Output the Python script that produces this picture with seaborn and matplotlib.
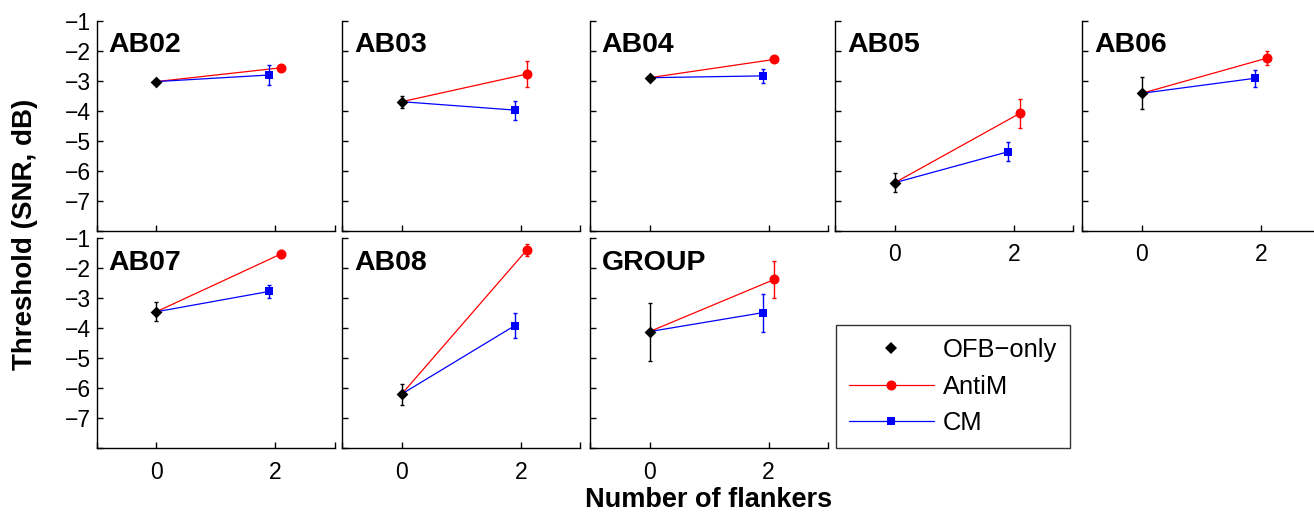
import numpy as np
import pandas as pd
import matplotlib
matplotlib.use("Agg")
import matplotlib.pyplot as plt
from matplotlib.lines import Line2D
import seaborn as sns

# ---- data ----
subjects = ["AB02", "AB03", "AB04", "AB05", "AB06", "AB07", "AB08", "GROUP"]
ofb_mean = [-3.03, -3.70, -2.90, -6.40, -3.42, -3.45, -6.19, -4.11]
ofb_err = [0.06, 0.20, 0.06, 0.32, 0.53, 0.32, 0.35, 0.97]
antim_mean = [-2.57, -2.78, -2.29, -4.09, -2.25, -1.52, -1.39, -2.37]
antim_err = [0.05, 0.44, 0.06, 0.47, 0.24, 0.14, 0.21, 0.61]
cm_mean = [-2.81, -3.98, -2.84, -5.37, -2.92, -2.77, -3.91, -3.48]
cm_err = [0.34, 0.32, 0.23, 0.32, 0.29, 0.21, 0.41, 0.64]
flankers = [0, 2]
conditions = ["OFB\u2212only", "AntiM", "CM"]
xtick_vals = [-1, 0, 2, 3]
xtick_labels = ["", "0", "2", ""]
ytick_vals = [-8, -7, -6, -5, -4, -3, -2, -1]
ytick_labels = ["", "\u22127", "\u22126", "\u22125", "\u22124", "\u22123", "\u22122", "\u22121"]

# ---- style ----
sns.set_theme(style="ticks")
plt.rcParams["font.family"] = ["Liberation Sans", "DejaVu Sans"]
plt.rcParams.update({
    "axes.linewidth": 1.0,
    "axes.edgecolor": "black",
    "text.color": "black",
    "axes.labelcolor": "black",
    "xtick.color": "black",
    "ytick.color": "black",
})

colors = {"OFB\u2212only": "black", "AntiM": "#ff0000", "CM": "#0000ff"}
markers = {"OFB\u2212only": "D", "AntiM": "o", "CM": "s"}
msize = {"OFB\u2212only": 6.0, "AntiM": 7.2, "CM": 6.2}
dodge = {"OFB\u2212only": 0.0, "AntiM": 0.1, "CM": -0.1}

W, H = 1314, 514
fig = plt.figure(figsize=(W / 100, H / 100), dpi=100)

lefts = [96.7, 342.3, 590.0, 835.3, 1082.3]
tops = [20.7, 238.3]
aw, ah = 238.0, 210.0

for i, subj in enumerate(subjects):
    row, col = divmod(i, 5)
    ax = fig.add_axes([lefts[col] / W, 1 - (tops[row] + ah) / H, aw / W, ah / H])
    ax.set_facecolor("white")

    x_ofb = flankers[0] + dodge[conditions[0]]
    x_anti = flankers[1] + dodge["AntiM"]
    x_cm = flankers[1] + dodge["CM"]

    seg = pd.DataFrame({
        "x": [x_ofb, x_anti, x_ofb, x_cm],
        "y": [ofb_mean[i], antim_mean[i], ofb_mean[i], cm_mean[i]],
        "cond": ["AntiM", "AntiM", "CM", "CM"],
    })
    sns.lineplot(data=seg, x="x", y="y", hue="cond", units="cond",
                 palette={"AntiM": colors["AntiM"], "CM": colors["CM"]},
                 sort=False, estimator=None, legend=False, lw=0.9, ax=ax)

    pts = pd.DataFrame({
        "x": [x_ofb, x_anti, x_cm],
        "y": [ofb_mean[i], antim_mean[i], cm_mean[i]],
        "err": [ofb_err[i], antim_err[i], cm_err[i]],
        "cond": conditions,
    })
    for _, r in pts.iterrows():
        ax.errorbar(r["x"], r["y"], yerr=r["err"], fmt="none",
                    ecolor=colors[r["cond"]], elinewidth=1.0, capsize=1.5,
                    capthick=1.0, zorder=3)
    for c in conditions:
        sub = pts[pts["cond"] == c]
        sns.scatterplot(data=sub, x="x", y="y", color=colors[c], marker=markers[c],
                        s=msize[c] ** 2, linewidth=0, edgecolor=colors[c],
                        legend=False, ax=ax, zorder=4)

    ax.set_xlim(-1, 3)
    ax.set_ylim(-8, -1)
    ax.set_xticks(xtick_vals)
    ax.set_xticklabels(xtick_labels)
    ax.set_yticks(ytick_vals)
    ax.set_yticklabels(ytick_labels)
    ax.set_xlabel("")
    ax.set_ylabel("")
    sns.despine(ax=ax)
    show_x = (row == 1) or (col >= 3)
    show_y = (col == 0)
    ax.tick_params(axis="x", direction="in", length=4, width=1.0, labelsize=16.5,
                   pad=9, labelbottom=show_x, colors="black")
    ax.tick_params(axis="y", direction="in", length=4, width=1.0, labelsize=16.5,
                   pad=4, labelleft=show_y, colors="black")
    ax.text(0.049, 0.85, subj, transform=ax.transAxes, fontsize=20.5,
            fontweight="bold", ha="left", va="baseline", color="black")

# legend
handles = [Line2D([], [], color=colors[c], marker=markers[c], markersize=msize[c],
                  lw=0 if c == conditions[0] else 0.9, markeredgewidth=0)
           for c in conditions]
leg = fig.legend(handles, conditions, loc="upper left",
                 bbox_to_anchor=(836 / W, 1 - 325 / H), frameon=True, fancybox=False,
                 edgecolor="black", fontsize=18.4, handlelength=3.33, handletextpad=0.35,
                 borderpad=0.5, labelspacing=0.5, numpoints=1, borderaxespad=0)
leg.get_frame().set_linewidth(1.0)

fig.text(709 / W, 1 - 507 / H, "Number of flankers", fontsize=19.5, fontweight="bold",
         ha="center", va="baseline")
fig.text(25 / W, 1 - 234 / H, "Threshold (SNR, dB)", fontsize=20, fontweight="bold",
         ha="center", va="center", rotation=90)

fig.savefig("out.png", dpi=100)
